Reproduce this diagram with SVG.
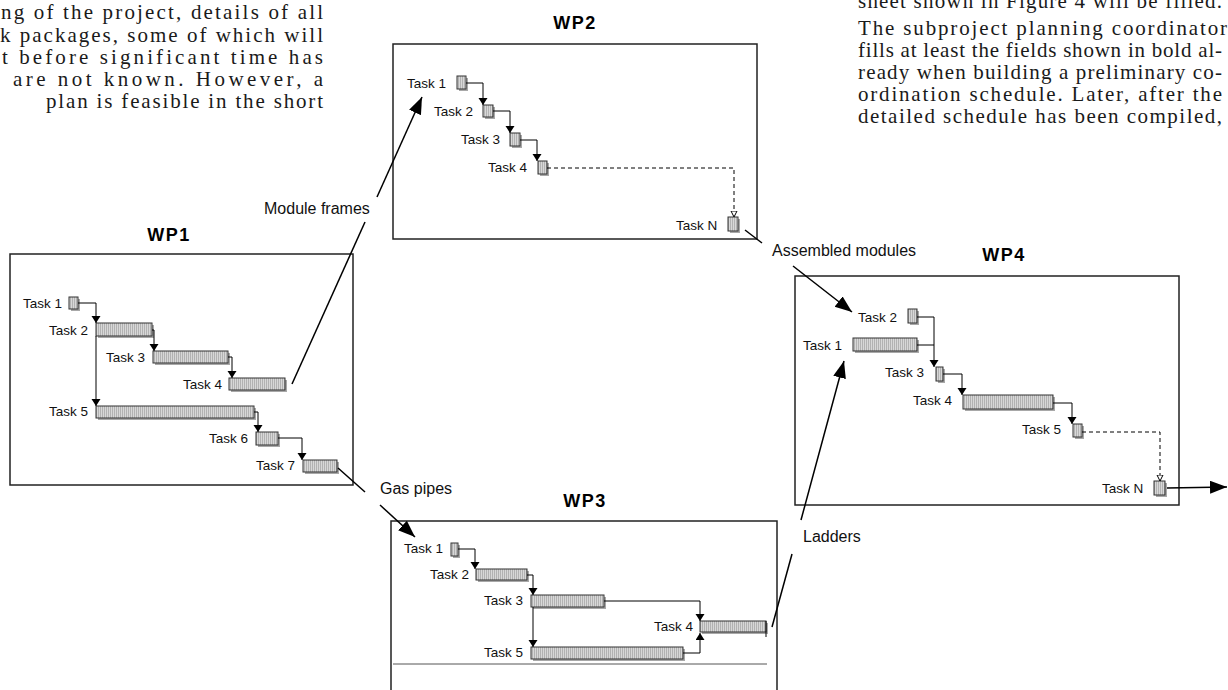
<svg xmlns="http://www.w3.org/2000/svg" width="1228" height="690" viewBox="0 0 1228 690">
<defs>
<pattern id="hatch" width="2" height="2" patternUnits="userSpaceOnUse"><rect width="2" height="2" fill="#d8d8d8"/><rect width="1" height="2" fill="#b2b2b2"/></pattern>
<marker id="ga" markerUnits="userSpaceOnUse" markerWidth="8" markerHeight="10" refX="7" refY="4.5" orient="auto"><path d="M0,0 L7,4.5 L0,9 z" fill="#000"/></marker>
<marker id="oa" markerUnits="userSpaceOnUse" markerWidth="8" markerHeight="9" refX="6.5" refY="3.5" orient="auto"><path d="M0.5,0.5 L6.5,3.5 L0.5,6.5 z" fill="#fff" stroke="#000" stroke-width="1"/></marker>
<marker id="ba" markerUnits="userSpaceOnUse" markerWidth="18" markerHeight="14" refX="17" refY="6.5" orient="auto"><path d="M0,0 L17,6.5 L0,13 z" fill="#000"/></marker>
</defs>
<style>
.body{font-family:"Liberation Serif","Times New Roman",serif;font-size:21px;fill:#1a1a1a}
.t{font-family:"Liberation Sans",Arial,sans-serif;font-size:13.5px;fill:#111}
.lbl{font-family:"Liberation Sans",Arial,sans-serif;font-size:16px;fill:#111}
.ttl{font-family:"Liberation Sans",Arial,sans-serif;font-size:18px;font-weight:bold;letter-spacing:1.5px;fill:#000;text-anchor:middle}
.box{fill:none;stroke:#222;stroke-width:1.5}
.bar{fill:url(#hatch);stroke:#333;stroke-width:1}
.sh{fill:#a8a8a8}
.c{fill:none;stroke:#000;stroke-width:1}
.g{marker-end:url(#ga)}
.d{stroke-dasharray:4,3;marker-end:url(#oa)}
.l{fill:none;stroke:#000;stroke-width:1.5}
.b{marker-end:url(#ba)}
</style>
<g id="text-left">
<text class="body" x="1" y="19" textLength="322" lengthAdjust="spacing">ng of the project, details of all</text>
<text class="body" x="0" y="42" textLength="323" lengthAdjust="spacing">k packages, some of which will</text>
<text class="body" x="2" y="64" textLength="321" lengthAdjust="spacing">t before significant time has</text>
<text class="body" x="13" y="86" textLength="310" lengthAdjust="spacing">are not known. However, a</text>
<text class="body" x="46" y="108" textLength="277" lengthAdjust="spacing">plan is feasible in the short</text>
</g>
<g id="text-right">
<text class="body" x="858" y="8" textLength="364" lengthAdjust="spacing">sheet shown in Figure 4 will be filled.</text>
<text class="body" x="858" y="35" textLength="369" lengthAdjust="spacing">The subproject planning coordinator</text>
<text class="body" x="858" y="57" textLength="364" lengthAdjust="spacing">fills at least the fields shown in bold al-</text>
<text class="body" x="858" y="79" textLength="364" lengthAdjust="spacing">ready when building a preliminary co-</text>
<text class="body" x="858" y="101" textLength="364" lengthAdjust="spacing">ordination schedule. Later, after the</text>
<text class="body" x="858" y="123" textLength="364" lengthAdjust="spacing">detailed schedule has been compiled,</text>
</g>
<g id="wp1">
<text class="ttl" x="169" y="241">WP1</text>
<rect class="box" x="10" y="254" width="343" height="231"/>
<text class="t" x="23" y="308">Task 1</text><rect class="sh" x="71" y="299" width="9" height="12"/><rect class="bar" x="69" y="297" width="9" height="12"/>
<text class="t" x="49" y="335">Task 2</text><rect class="sh" x="98" y="325" width="56" height="13"/><rect class="bar" x="96" y="323" width="56" height="13"/>
<text class="t" x="106" y="362">Task 3</text><rect class="sh" x="155" y="353" width="75" height="12"/><rect class="bar" x="153" y="351" width="75" height="12"/>
<text class="t" x="183" y="389">Task 4</text><rect class="sh" x="231" y="380" width="56" height="12"/><rect class="bar" x="229" y="378" width="56" height="12"/>
<text class="t" x="49" y="416">Task 5</text><rect class="sh" x="98" y="408" width="158" height="12"/><rect class="bar" x="96" y="406" width="158" height="12"/>
<text class="t" x="209" y="443">Task 6</text><rect class="sh" x="258" y="434" width="22" height="13"/><rect class="bar" x="256" y="432" width="22" height="13"/>
<text class="t" x="256" y="470">Task 7</text><rect class="sh" x="305" y="462" width="34" height="12"/><rect class="bar" x="303" y="460" width="34" height="12"/>
</g>
<g id="wp2">
<text class="ttl" x="575" y="29">WP2</text>
<rect class="box" x="393" y="44" width="364" height="195"/>
<text class="t" x="407" y="88">Task 1</text><rect class="sh" x="459" y="78" width="9" height="13"/><rect class="bar" x="457" y="76" width="9" height="13"/>
<text class="t" x="434" y="116">Task 2</text><rect class="sh" x="485" y="107" width="10" height="12"/><rect class="bar" x="483" y="105" width="10" height="12"/>
<text class="t" x="461" y="144">Task 3</text><rect class="sh" x="512" y="135" width="10" height="13"/><rect class="bar" x="510" y="133" width="10" height="13"/>
<text class="t" x="488" y="172">Task 4</text><rect class="sh" x="540" y="163" width="9" height="13"/><rect class="bar" x="538" y="161" width="9" height="13"/>
<text class="t" x="676" y="230">Task N</text><rect class="sh" x="730" y="219" width="10" height="14"/><rect class="bar" x="728" y="217" width="10" height="14"/>
</g>
<g id="wp3">
<text class="ttl" x="585" y="507">WP3</text>
<path class="box" d="M391,700 V521 H777 V700"/>
<path d="M393,664 H767" stroke="#555" stroke-width="1" fill="none"/>
<text class="t" x="404" y="553">Task 1</text><rect class="sh" x="453" y="545" width="7" height="13"/><rect class="bar" x="451" y="543" width="7" height="13"/>
<text class="t" x="430" y="579">Task 2</text><rect class="sh" x="478" y="571" width="51" height="11"/><rect class="bar" x="476" y="569" width="51" height="11"/>
<text class="t" x="484" y="605">Task 3</text><rect class="sh" x="533" y="597" width="73" height="12"/><rect class="bar" x="531" y="595" width="73" height="12"/>
<text class="t" x="654" y="631">Task 4</text><rect class="sh" x="702" y="623" width="66" height="11"/><rect class="bar" x="700" y="621" width="66" height="11"/>
<text class="t" x="484" y="657">Task 5</text><rect class="sh" x="533" y="649" width="152" height="12"/><rect class="bar" x="531" y="647" width="152" height="12"/>
</g>
<g id="wp4">
<text class="ttl" x="1004" y="261">WP4</text>
<rect class="box" x="795" y="276" width="384" height="229"/>
<text class="t" x="858" y="322">Task 2</text><rect class="sh" x="910" y="311" width="9" height="14"/><rect class="bar" x="908" y="309" width="9" height="14"/>
<text class="t" x="803" y="350">Task 1</text><rect class="sh" x="855" y="340" width="64" height="13"/><rect class="bar" x="853" y="338" width="64" height="13"/>
<text class="t" x="885" y="377">Task 3</text><rect class="sh" x="938" y="369" width="7" height="14"/><rect class="bar" x="936" y="367" width="7" height="14"/>
<text class="t" x="913" y="405">Task 4</text><rect class="sh" x="965" y="397" width="90" height="14"/><rect class="bar" x="963" y="395" width="90" height="14"/>
<text class="t" x="1022" y="434">Task 5</text><rect class="sh" x="1075" y="426" width="9" height="13"/><rect class="bar" x="1073" y="424" width="9" height="13"/>
<text class="t" x="1102" y="493">Task N</text><rect class="sh" x="1156" y="483" width="11" height="14"/><rect class="bar" x="1154" y="481" width="11" height="14"/>
</g>
<g id="label-module-frames"><text class="lbl" x="264" y="214">Module frames</text></g>
<g id="label-gas-pipes"><text class="lbl" x="380" y="494">Gas pipes</text></g>
<g id="label-assembled-modules"><text class="lbl" x="772" y="256">Assembled modules</text></g>
<g id="label-ladders"><text class="lbl" x="803" y="542">Ladders</text></g>
<g id="connectors">
<path class="c g" d="M78,303 H96 V323"/>
<path class="c g" d="M152,330 H154 V351"/>
<path class="c g" d="M96,336 V406"/>
<path class="c g" d="M228,357 H232 V378"/>
<path class="c g" d="M254,412 H258 V432"/>
<path class="c g" d="M278,438 H302 V460"/>
<path class="c g" d="M466,83 H483 V105"/>
<path class="c g" d="M493,111 H510 V133"/>
<path class="c g" d="M520,140 H537 V161"/>
<path class="c d" d="M547,168 H734 V217"/>
<path class="c g" d="M458,549 H475 V569"/>
<path class="c g" d="M527,575 H533 V595"/>
<path class="c g" d="M533,607 V647"/>
<path class="c g" d="M604,601 H700 V621"/>
<path class="c g" d="M683,653 H700 V633"/>
<path class="c g" d="M917,317 H934 V367"/>
<path class="c" d="M917,345 H934"/>
<path class="c g" d="M943,374 H962 V395"/>
<path class="c g" d="M1053,403 H1072 V424"/>
<path class="c d" d="M1082,432 H1160 V481"/>
<path class="l b" d="M1167,488 L1227,487"/>
<path class="l" d="M292,384 L365,222"/>
<path class="l b" d="M377,197 L422,97"/>
<path class="l" d="M338,468 L365,492"/>
<path class="l b" d="M380,505 L415,537"/>
<path class="l" d="M745,230 L762,243"/>
<path class="l b" d="M793,266 L852,312"/>
<path class="l" d="M772,627 L792,554"/>
<path class="l b" d="M801,520 L844,361"/>
<path class="c" d="M766,621 V637"/>
</g>
</svg>
